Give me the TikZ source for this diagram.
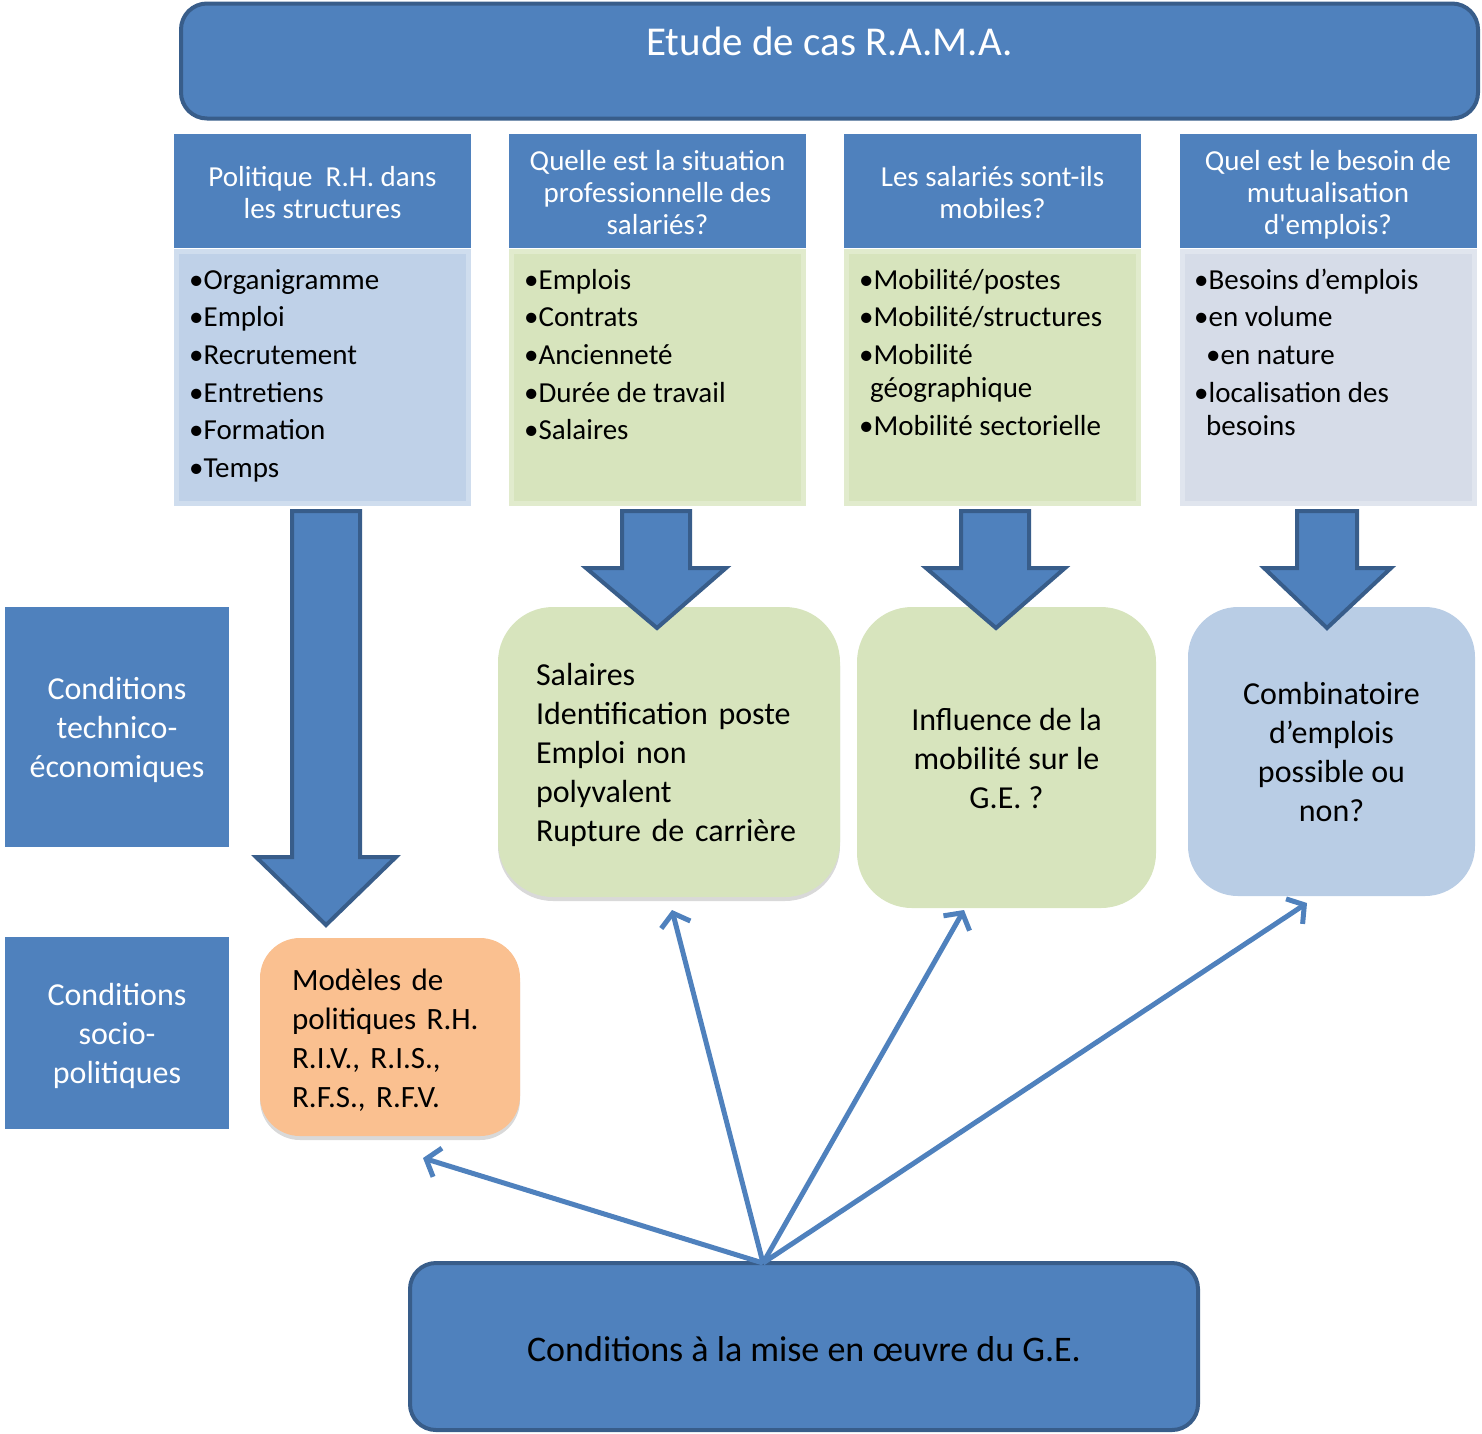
\documentclass[tikz,border=0pt]{standalone}
\usepackage{fontspec}
\setmainfont{Carlito}
\usetikzlibrary{arrows.meta,shadows}
\definecolor{bfill}{HTML}{4F81BD}
\definecolor{bline}{HTML}{385D8A}
\definecolor{gfill}{HTML}{D7E4BD}
\definecolor{lbfill}{HTML}{B9CDE5}
\definecolor{c1fill}{HTML}{BFD1E8}
\definecolor{c4fill}{HTML}{D6DCE8}
\definecolor{ofill}{HTML}{FAC090}
\newcommand{\bxtop}{\rule{0pt}{31pt}}
\newcommand{\bxbot}{\rule[-8pt]{0pt}{0pt}}
\newcommand{\hdtop}{\rule{0pt}{27pt}}
\newcommand{\hdbot}{\rule[-5pt]{0pt}{0pt}}
\tikzset{
  hdrbox/.style={fill=bfill, draw=none, text=white, align=center, inner sep=0,
    minimum width=297pt, minimum height=114pt, font=\fontsize{29}{32}\selectfont},
  bodybox/.style={draw=#1!75!white, fill=#1, line width=5pt, inner sep=0,
    minimum width=292pt, minimum height=252pt},
  lst/.style={anchor=north west, align=left, inner sep=0, font=\fontsize{29}{33}\selectfont},
  blockarrow/.style={fill=bfill, draw=bline, line width=4pt, line join=miter},
  sidebox/.style={fill=bfill, draw=none, text=white, align=center, inner sep=0,
    minimum width=224pt, font=\fontsize{32}{39}\selectfont},
  softbox/.style={rounded corners=#1, inner sep=0, font=\fontsize{32}{39}\selectfont\frenchspacing},
  thinarrow/.style={draw=bfill, line width=5pt, -{Straight Barb[length=12pt,width=30pt]}},
}
\begin{document}
\begin{tikzpicture}[x=1pt,y=-1pt]
\useasboundingbox (0,0) rectangle (1482,1433);
% title
\node[fill=bfill, draw=bline, line width=4pt, rounded corners=26pt, inner sep=0,
  minimum width=1297pt, minimum height=115pt] (title) at (829.5,61) {};
\node[text=white, font=\fontsize{41}{45}\selectfont, anchor=base, inner sep=0] (titletxt) at (829.5,55) {Etude de cas R.A.M.A.};
% column headers
\node[hdrbox] (h1) at (322.5,191) {\hdtop Politique\ \ R.H. dans\\les structures\hdbot};
\node[hdrbox] (h2) at (657.5,191) {\hdtop Quelle est la situation\\professionnelle des\\salariés?\hdbot};
\node[hdrbox] (h3) at (992.5,191) {\hdtop Les salariés sont-ils\\mobiles?\hdbot};
\node[hdrbox] (h4) at (1328,191) {\hdtop Quel est le besoin de\\mutualisation\\d\textquotesingle emplois?\hdbot};
% column bodies
\node[bodybox=c1fill] (b1) at (322.5,377.5) {};
\node[bodybox=gfill] (b2) at (657.5,377.5) {};
\node[bodybox=gfill] (b3) at (992.5,377.5) {};
\node[bodybox=c4fill] (b4) at (1328,377.5) {};
\node[lst] (l1) at (189,266) {\strut •Organigramme\\[4.6pt]•Emploi\\[4.6pt]•Recrutement\\[4.6pt]•Entretiens\\[4.6pt]•Formation\\[4.6pt]•Temps};
\node[lst] (l2) at (524,266) {\strut •Emplois\\[4.6pt]•Contrats\\[4.6pt]•Ancienneté\\[4.6pt]•Durée de travail\\[4.6pt]•Salaires};
\node[lst] (l3) at (859,266) {\strut •Mobilité/postes\\[4.6pt]•Mobilité/structures\\[4.6pt]•Mobilité\\\hspace*{11pt}géographique\\[4.6pt]•Mobilité sectorielle};
\node[lst] (l4) at (1194,266) {\strut •Besoins d’emplois\\[4.6pt]•en volume\\[4.6pt]\hspace*{12pt}•en nature\\[4.6pt]•localisation des\\\hspace*{12pt}besoins};
% side boxes
\node[sidebox, minimum height=240pt] (tech) at (117,727) {\bxtop Conditions\\technico-\\économiques\bxbot};
\node[sidebox, minimum height=192pt] (socio) at (117,1033) {\bxtop Conditions\\socio-\\politiques\bxbot};
% middle boxes
\node[softbox=55pt, fill=gfill, minimum width=342pt, minimum height=290pt, text width=266pt, inner xsep=38pt, align=left,
  drop shadow={opacity=0.3, shadow xshift=0pt, shadow yshift=-4pt}] (mA) at (669,752) {\bxtop Salaires\\Identification poste\\Emploi non\\polyvalent\\Rupture de carrière\bxbot};
\node[softbox=55pt, fill=gfill, minimum width=299pt, minimum height=301pt, align=center] (mB) at (1006.5,757.5) {\bxtop Influence de la\\mobilité sur le\\G.E. ?\bxbot};
\node[softbox=50pt, fill=lbfill, minimum width=287pt, minimum height=289pt, align=center] (mC) at (1331.5,751.5) {\bxtop Combinatoire\\d’emplois\\possible ou\\non?\bxbot};
\node[softbox=40pt, fill=ofill, minimum width=260pt, minimum height=198pt, text width=196pt, inner xsep=32pt, align=left,
  font=\fontsize{31}{39}\selectfont\frenchspacing,
  drop shadow={opacity=0.3, shadow xshift=0pt, shadow yshift=-4pt}] (orange) at (390,1037) {\bxtop Modèles de\\politiques R.H.\\R.I.V., R.I.S.,\\R.F.S., R.F.V.\bxbot};
% block arrows (drawn over the boxes)
\draw[blockarrow] (292,511) -- (360,511) -- (360,857) -- (396,857) -- (326,925) -- (256,857) -- (292,857) -- cycle;
\draw[blockarrow] (622,511) -- (690,511) -- (690,568) -- (726,568) -- (657,628) -- (586,568) -- (622,568) -- cycle;
\draw[blockarrow] (961,511) -- (1029,511) -- (1029,568) -- (1065,568) -- (996,628) -- (926,568) -- (961,568) -- cycle;
\draw[blockarrow] (1297,511) -- (1357,511) -- (1357,568) -- (1391,568) -- (1327,628) -- (1264,568) -- (1297,568) -- cycle;
% bottom box
\node[fill=bfill, draw=bline, line width=4pt, rounded corners=26pt, inner sep=0,
  minimum width=788pt, minimum height=167pt, font=\fontsize{36}{40}\selectfont] (bottom) at (804,1346.5) {\rule{0pt}{30pt}Conditions à la mise en œuvre du G.E.};
% thin arrows
\coordinate (src) at (763,1263);
\coordinate (tO) at (423,1158);
\coordinate (tA) at (672,910);
\coordinate (tB) at (964,910);
\coordinate (tC) at (1307,903);
\draw[thinarrow] (src) -- (tO);
\draw[thinarrow] (src) -- (tA);
\draw[thinarrow] (src) -- (tB);
\draw[thinarrow] (src) -- (tC);
\end{tikzpicture}
\end{document}
